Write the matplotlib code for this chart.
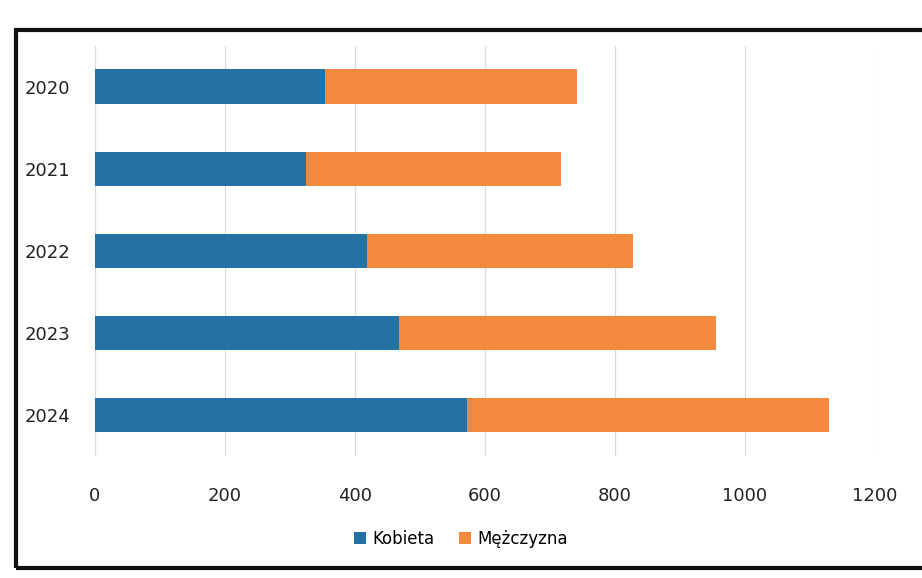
import matplotlib.pyplot as plt
from matplotlib.patches import Rectangle

# Data
years = ['2020', '2021', '2022', '2023', '2024']
kobieta = [354, 325, 418, 467, 573]
mezczyzna = [388, 392, 409, 488, 556]
xticks = [0, 200, 400, 600, 800, 1000, 1200]

blue = '#2472A4'
orange = '#F4893D'

fig = plt.figure(figsize=(9.22, 5.78), dpi=100)
ax = fig.add_axes([0.103, 0.211, 0.846, 0.71])

ax.barh(years, kobieta, height=0.42, color=blue, label='Kobieta', zorder=3)
ax.barh(years, mezczyzna, left=kobieta, height=0.42, color=orange,
        label='Mężczyzna', zorder=3)

ax.set_xlim(0, 1200)
ax.set_ylim(len(years) - 0.5, -0.5)
ax.set_xticks(xticks)
ax.grid(axis='x', color='#D9D9D9', linewidth=0.9, zorder=0)
for s in ax.spines.values():
    s.set_visible(False)
ax.tick_params(axis='both', length=0, labelsize=13, colors='#222222')
ax.tick_params(axis='x', pad=22)
ax.tick_params(axis='y', pad=18)

fig.legend(loc='center', bbox_to_anchor=(0.5, 0.068), ncol=2, frameon=False,
           fontsize=12, handlelength=0.7, handleheight=0.7, columnspacing=1.5,
           handletextpad=0.4)

# dark frame of the scanned chart box
fig.patches.append(Rectangle((0.017, 0.018), 1.2, 0.93, transform=fig.transFigure,
                             fill=False, edgecolor='#111111', linewidth=3))

fig.savefig('out.png', dpi=100)
